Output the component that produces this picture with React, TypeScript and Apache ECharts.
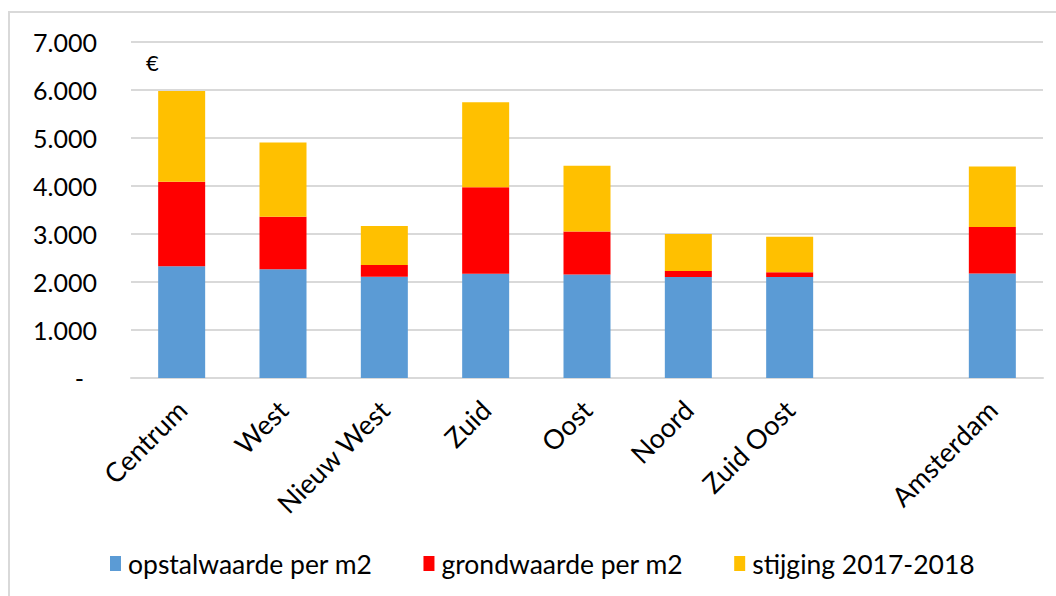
import React, { useEffect, useRef } from "react";
import * as echarts from "echarts";

const categories = ["Centrum", "West", "Nieuw West", "Zuid", "Oost", "Noord", "Zuid Oost", "", "Amsterdam"];
const opstalwaarde = [2330, 2265, 2110, 2170, 2155, 2105, 2105, null, 2175];
const grondwaarde = [1760, 1095, 245, 1805, 895, 125, 100, null, 970];
const stijging = [1890, 1545, 810, 1770, 1370, 770, 740, null, 1260];
const seriesNames = ["opstalwaarde per m2", "grondwaarde per m2", "stijging 2017-2018"];
const yTicks = { min: 0, max: 7000, interval: 1000 };

const FONT = "Lato";

export default function App() {
  const ref = useRef<HTMLDivElement>(null);
  useEffect(() => {
    if (!ref.current) return;
    const chart = echarts.init(ref.current, undefined, { renderer: "svg" });
    const mk = (name: string, data: (number | null)[], color: string) => ({
      name,
      type: "bar",
      stack: "total",
      data,
      barWidth: 47,
      itemStyle: { color },
    });
    chart.setOption({
      animation: false,
      backgroundColor: "#ffffff",
      textStyle: { fontFamily: FONT },
      grid: { left: 131, right: 13, top: 42, bottom: 218 },
      graphic: [
        {
          type: "rect",
          shape: { x: 9, y: 12, width: 1100, height: 700 },
          style: { fill: "none", stroke: "#d9d9d9", lineWidth: 2 },
          silent: true,
        },
        {
          type: "text",
          x: 146,
          y: 62,
          style: { text: "€", font: `22px ${FONT}`, fill: "#000", textVerticalAlign: "middle" },
        },
      ],
      legend: {
        left: 105,
        top: 545,
        itemWidth: 11,
        itemHeight: 15,
        itemGap: 51,
        icon: "rect",
        textStyle: { fontFamily: FONT, fontSize: 26.5, color: "#000", padding: [0, 0, 0, 2] },
        data: seriesNames,
      },
      xAxis: {
        type: "category",
        data: categories,
        axisLine: { show: true, lineStyle: { color: "#d9d9d9", width: 2 } },
        axisTick: { show: false },
        axisLabel: {
          rotate: 45,
          interval: 0,
          margin: 27,
          fontSize: 27,
          fontFamily: FONT,
          color: "#000",
        },
      },
      yAxis: {
        type: "value",
        min: yTicks.min,
        max: yTicks.max,
        interval: yTicks.interval,
        axisLine: { show: false },
        axisTick: { show: false },
        splitLine: { lineStyle: { color: "#d9d9d9", width: 2 } },
        axisLabel: {
          margin: 34,
          fontSize: 25,
          fontFamily: FONT,
          color: "#000",
          formatter: (v: number) => (v === 0 ? "{d|-}" : `${v / 1000}.000`),
          rich: { d: { fontSize: 25, fontFamily: FONT, color: "#000", padding: [0, 13, 0, 0] } },
        },
      },
      series: [
        mk(seriesNames[0], opstalwaarde, "#5b9bd5"),
        mk(seriesNames[1], grondwaarde, "#ff0000"),
        mk(seriesNames[2], stijging, "#ffc000"),
      ],
    });
    return () => chart.dispose();
  }, []);
  return <div ref={ref} style={{ position: "absolute", left: 0, top: 0, width: 1056, height: 596 }} />;
}
